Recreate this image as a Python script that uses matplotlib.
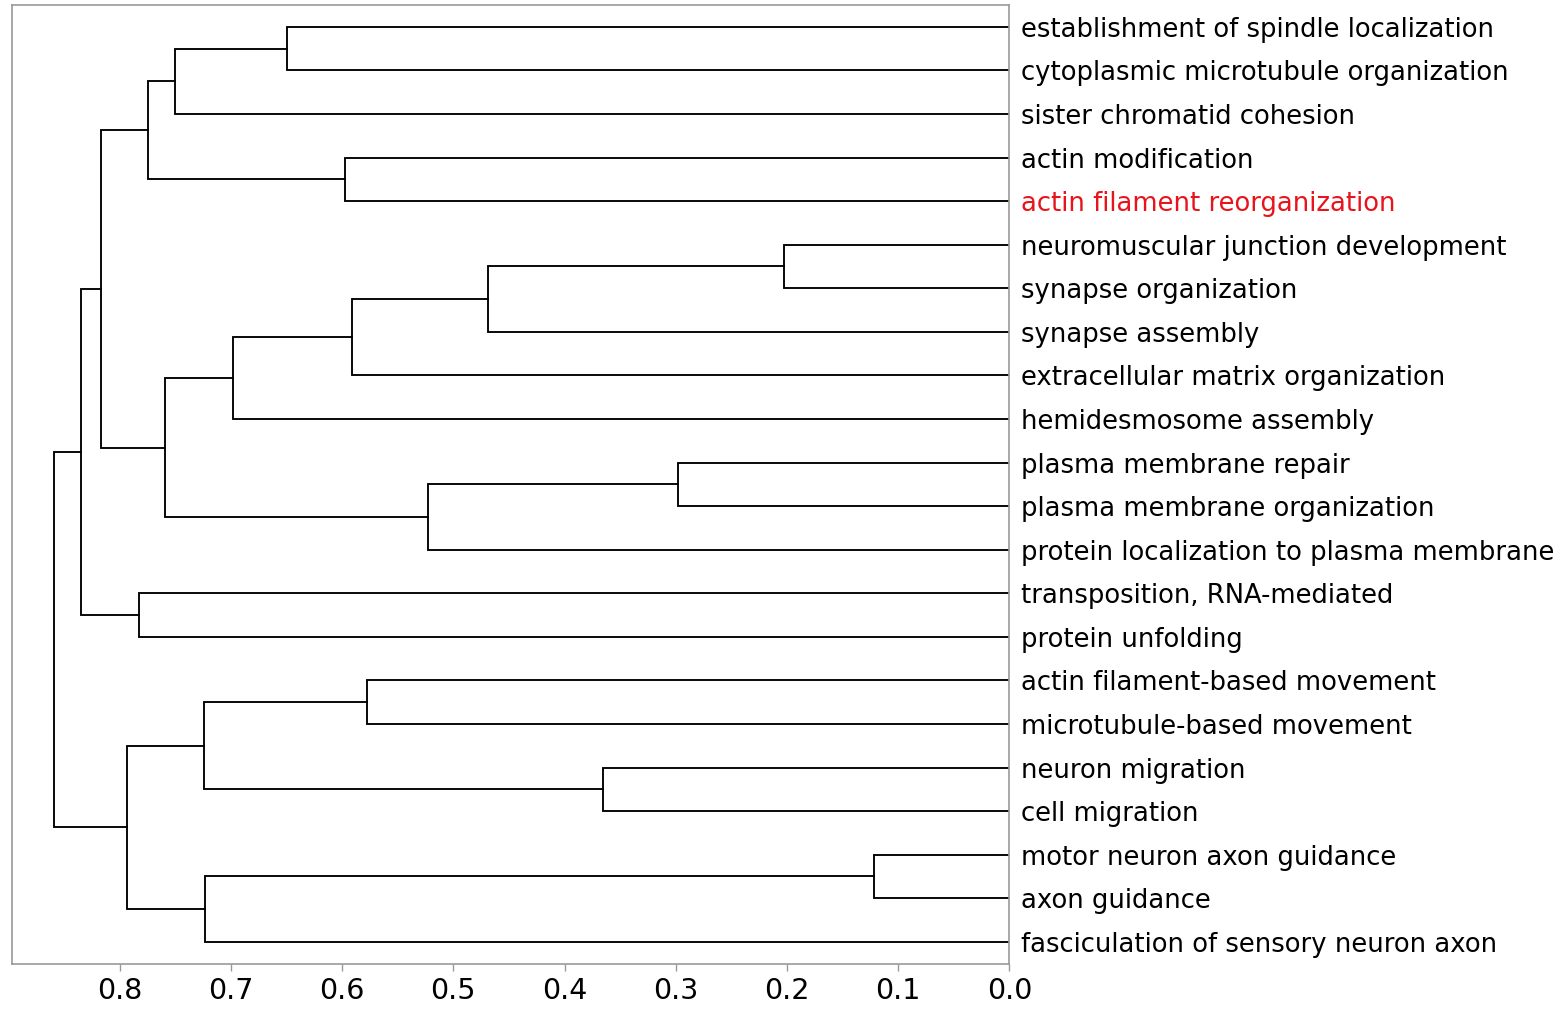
import matplotlib

matplotlib.use("Agg")

import matplotlib.pyplot as plt

# leaf terms, top to bottom
leaves = [
    "establishment of spindle localization",
    "cytoplasmic microtubule organization",
    "sister chromatid cohesion",
    "actin modification",
    "actin filament reorganization",
    "neuromuscular junction development",
    "synapse organization",
    "synapse assembly",
    "extracellular matrix organization",
    "hemidesmosome assembly",
    "plasma membrane repair",
    "plasma membrane organization",
    "protein localization to plasma membrane",
    "transposition, RNA-mediated",
    "protein unfolding",
    "actin filament-based movement",
    "microtubule-based movement",
    "neuron migration",
    "cell migration",
    "motor neuron axon guidance",
    "axon guidance",
    "fasciculation of sensory neuron axon",
]
highlight = {"actin filament reorganization"}

# merges as (child_a, child_b, distance); ids >= len(leaves) are earlier merges
merges = [
    (0, 1, 0.650),     # 22
    (22, 2, 0.750),    # 23
    (3, 4, 0.597),     # 24
    (23, 24, 0.775),   # 25
    (5, 6, 0.203),     # 26
    (26, 7, 0.469),    # 27
    (27, 8, 0.591),    # 28
    (28, 9, 0.698),    # 29
    (10, 11, 0.298),   # 30
    (30, 12, 0.523),   # 31
    (29, 31, 0.759),   # 32
    (25, 32, 0.817),   # 33
    (13, 14, 0.783),   # 34
    (33, 34, 0.835),   # 35
    (15, 16, 0.578),   # 36
    (17, 18, 0.365),   # 37
    (36, 37, 0.724),   # 38
    (19, 20, 0.122),   # 39
    (39, 21, 0.723),   # 40
    (38, 40, 0.793),   # 41
    (35, 41, 0.859),   # 42
]

n = len(leaves)
pos = {i: 10 * i + 5 for i in range(n)}
dist = {i: 0.0 for i in range(n)}

fig, ax = plt.subplots(figsize=(15.65, 10.09), dpi=100)
fig.subplots_adjust(left=0.0077, right=0.645, bottom=0.045, top=0.995)

for k, (a, b, d) in enumerate(merges):
    node = n + k
    ax.plot([dist[a], d, d, dist[b]], [pos[a], pos[a], pos[b], pos[b]],
            color="black", linewidth=1.35, solid_joinstyle="miter")
    pos[node] = (pos[a] + pos[b]) / 2
    dist[node] = d

max_d = max(d for _, _, d in merges)
ax.set_xlim(max_d * 1.044, 0)
ax.set_ylim(10 * n, 0)

ax.yaxis.tick_right()
ax.set_yticks([pos[i] for i in range(n)])
ax.set_yticklabels(leaves)
for lbl in ax.get_yticklabels():
    if lbl.get_text() in highlight:
        lbl.set_color("#e8141c")
ax.tick_params(axis="y", length=0, pad=8, labelsize=18.6)

ax.set_xticks([0.8, 0.7, 0.6, 0.5, 0.4, 0.3, 0.2, 0.1, 0.0])
ax.tick_params(axis="x", length=5, width=1, color="#999999", labelsize=20.5, pad=5)

for spine in ax.spines.values():
    spine.set_color("#999999")
    spine.set_linewidth(1.2)

fig.savefig("out.png", dpi=100)
plt.close(fig)
